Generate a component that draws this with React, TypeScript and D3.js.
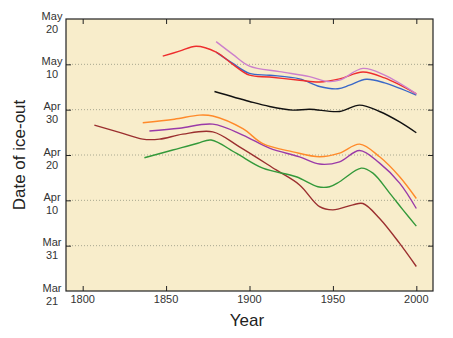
import React, { useEffect, useRef } from 'react'
import * as d3 from 'd3'

// day of year: Mar 21 = 80 ... May 20 = 140
const yTicks = [80, 90, 100, 110, 120, 130, 140]
const yTickLabels = [['Mar', '21'], ['Mar', '31'], ['Apr', '10'], ['Apr', '20'], ['Apr', '30'], ['May', '10'], ['May', '20']]
const xTicks = [1800, 1850, 1900, 1950, 2000]

const redSeries = [[1848, 131.8], [1858, 132.9], [1868, 134.0], [1880, 132.7], [1890, 130.0], [1900, 127.6], [1912, 127.2], [1930, 126.5], [1942, 126.1], [1954, 126.8], [1968, 128.3], [1981, 127.0], [2000, 123.5]]
const pinkSeries = [[1880, 135.0], [1890, 132.2], [1900, 129.6], [1918, 128.4], [1936, 127.3], [1947, 126.2], [1954, 126.5], [1968, 129.1], [1981, 127.6], [2000, 123.5]]
const blueSeries = [[1880, 132.7], [1890, 130.2], [1900, 128.0], [1912, 127.6], [1930, 126.8], [1942, 125.1], [1953, 124.6], [1960, 125.4], [1970, 126.7], [1981, 125.9], [2000, 123.2]]
const blackSeries = [[1879, 124.0], [1900, 121.8], [1912, 120.7], [1926, 119.9], [1936, 120.1], [1954, 119.6], [1966, 121.0], [1978, 119.6], [1990, 117.3], [2000, 114.9]]
const orangeSeries = [[1836, 117.1], [1855, 117.9], [1870, 118.8], [1878, 118.6], [1896, 115.8], [1908, 112.5], [1926, 110.7], [1942, 109.6], [1954, 110.4], [1966, 112.4], [1978, 109.6], [1990, 105.2], [2000, 100.4]]
const purpleSeries = [[1840, 115.3], [1858, 115.9], [1878, 116.8], [1896, 114.4], [1912, 111.5], [1930, 109.6], [1942, 108.0], [1954, 108.5], [1966, 111.0], [1978, 108.2], [1990, 103.8], [2000, 98.2]]
const brownSeries = [[1807, 116.6], [1822, 115.0], [1836, 113.5], [1846, 113.5], [1860, 114.6], [1878, 115.1], [1894, 111.8], [1916, 106.7], [1930, 103.4], [1942, 98.6], [1950, 97.9], [1962, 99.0], [1968, 99.3], [1978, 96.0], [1990, 90.5], [2000, 85.4]]
const greenSeries = [[1837, 109.4], [1854, 111.1], [1869, 112.6], [1877, 113.3], [1892, 110.4], [1908, 107.1], [1928, 105.2], [1941, 103.0], [1948, 103.0], [1954, 104.1], [1967, 107.1], [1974, 106.0], [1984, 101.6], [1992, 97.9], [2000, 94.3]]

const series = [
  { data: brownSeries, color: '#9b2f2f' },
  { data: greenSeries, color: '#33993a' },
  { data: purpleSeries, color: '#9a3aa8' },
  { data: orangeSeries, color: '#ff8a2a' },
  { data: blackSeries, color: '#111111' },
  { data: blueSeries, color: '#3a68c8' },
  { data: redSeries, color: '#ee2e2e' },
  { data: pinkSeries, color: '#cc80cc' },
]

const W = 453
const H = 338

const IceOutChart = () => {
  const ref = useRef<SVGSVGElement>(null)

  useEffect(() => {
    const svg = d3.select(ref.current)
    svg.selectAll('*').remove()

    const left = 66
    const right = 433
    const top = 19
    const bottom = 291

    const x = d3.scaleLinear().domain([1790, 2010]).range([left, right])
    const y = d3.scaleLinear().domain([80, 140]).range([bottom, top])

    svg.append('rect')
      .attr('x', left).attr('y', top)
      .attr('width', right - left).attr('height', bottom - top)
      .attr('fill', '#f8edcb')

    // dotted gridlines
    svg.append('g')
      .selectAll('line')
      .data(yTicks.slice(1, -1))
      .enter()
      .append('line')
      .attr('x1', left).attr('x2', right)
      .attr('y1', d => y(d)).attr('y2', d => y(d))
      .attr('stroke', '#a8a890')
      .attr('stroke-width', 1)
      .attr('stroke-dasharray', '1,2')

    const line = d3.line<number[]>()
      .x(d => x(d[0]))
      .y(d => y(d[1]))
      .curve(d3.curveCatmullRom.alpha(0.5))

    svg.append('g')
      .selectAll('path')
      .data(series)
      .enter()
      .append('path')
      .attr('d', d => line(d.data))
      .attr('fill', 'none')
      .attr('stroke', d => d.color)
      .attr('stroke-width', 1.4)

    const tickLen = 5
    const axisCol = '#222'

    // axes: ticks pointing inward on all four sides
    svg.append('g')
      .attr('transform', `translate(0, ${bottom})`)
      .call(d3.axisBottom(x).tickValues(xTicks).tickSize(-tickLen).tickFormat(() => ''))
      .call(g => g.select('.domain').remove())
      .selectAll('line').attr('stroke', axisCol)

    svg.append('g')
      .attr('transform', `translate(0, ${top})`)
      .call(d3.axisTop(x).tickValues(xTicks).tickSize(-tickLen).tickFormat(() => ''))
      .call(g => g.select('.domain').remove())
      .selectAll('line').attr('stroke', axisCol)

    svg.append('g')
      .attr('transform', `translate(${left}, 0)`)
      .call(d3.axisLeft(y).tickValues(yTicks.slice(1, -1)).tickSize(-tickLen).tickFormat(() => ''))
      .call(g => g.select('.domain').remove())
      .selectAll('line').attr('stroke', axisCol)

    svg.append('g')
      .attr('transform', `translate(${right}, 0)`)
      .call(d3.axisRight(y).tickValues(yTicks.slice(1, -1)).tickSize(-tickLen).tickFormat(() => ''))
      .call(g => g.select('.domain').remove())
      .selectAll('line').attr('stroke', axisCol)

    svg.append('rect')
      .attr('x', left).attr('y', top)
      .attr('width', right - left).attr('height', bottom - top)
      .attr('fill', 'none')
      .attr('stroke', axisCol)
      .attr('stroke-width', 1.2)

    const font = 'Liberation Sans, Arial, sans-serif'

    // x tick labels
    svg.append('g')
      .selectAll('text')
      .data(xTicks)
      .enter()
      .append('text')
      .attr('x', d => x(d))
      .attr('y', bottom + 11.5)
      .attr('text-anchor', 'middle')
      .attr('font-family', font)
      .attr('font-size', 11)
      .attr('fill', '#333')
      .text(d => d)

    // y tick labels, two lines each
    const yl = svg.append('g')
      .selectAll('text')
      .data(yTicks)
      .enter()
      .append('text')
      .attr('text-anchor', 'middle')
      .attr('font-family', font)
      .attr('font-size', 11)
      .attr('fill', '#333')
    yl.append('tspan')
      .attr('x', 52)
      .attr('y', d => y(d) + 0.5)
      .text((d, i) => yTickLabels[i][0])
    yl.append('tspan')
      .attr('x', 52)
      .attr('y', d => y(d) + 13.5)
      .text((d, i) => yTickLabels[i][1])

    svg.append('text')
      .attr('x', 247)
      .attr('y', 326)
      .attr('text-anchor', 'middle')
      .attr('font-family', font)
      .attr('font-size', 17)
      .attr('fill', '#222')
      .text('Year')

    svg.append('text')
      .attr('transform', `translate(25, 155) rotate(-90)`)
      .attr('text-anchor', 'middle')
      .attr('font-family', font)
      .attr('font-size', 17)
      .attr('fill', '#222')
      .text('Date of ice-out')
  }, [])

  return <svg ref={ref} width={W} height={H} style={{ position: 'absolute', left: 0, top: 0, background: '#fff' }}></svg>
}

export default function App() {
  return <IceOutChart />
}
